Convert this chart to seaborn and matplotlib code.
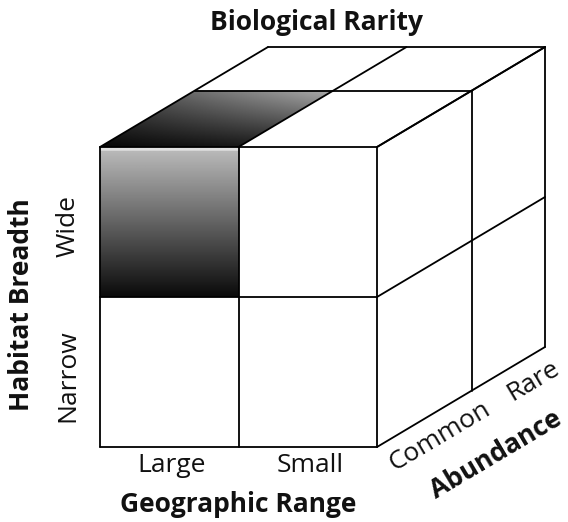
import matplotlib
matplotlib.use("Agg")
import matplotlib.pyplot as plt
import numpy as np
import seaborn as sns
from matplotlib.patches import Polygon

# categories of the three rarity axes
geo_range = ["Large", "Small"]
habitat = ["Wide", "Narrow"]
abundance = ["Common", "Rare"]
highlight = ("Large", "Wide", "Common")  # the shaded (least rare) cell

title = "Biological Rarity"
x_title = "Geographic Range"
y_title = "Habitat Breadth"
z_title = "Abundance"

sns.set_theme(style="white")
plt.rcParams["font.family"] = ["Open Sans", "DejaVu Sans"]
plt.rcParams["text.color"] = "#111111"

# cube geometry in pixel space
x0, y0 = 100, 147          # top-left corner of the front face
cell_w, cell_h = 138.5, 150
depth_vec = np.array([168, -100])
depth_frac = [0.0, 0.565, 1.0]
lw = 1.3


def proj(gx, gy, d):
    """grid coords (column, row, depth index) -> pixel position"""
    f = depth_frac[d]
    return (x0 + gx * cell_w + f * depth_vec[0], y0 + gy * cell_h + f * depth_vec[1])


fig = plt.figure(figsize=(5.68, 5.22), dpi=100)
ax = fig.add_axes([0, 0, 1, 1])
ax.set_xlim(0, 568)
ax.set_ylim(522, 0)
ax.axis("off")

nx, ny, nd = len(geo_range), len(habitat), len(abundance)

# ── shaded cell ───────────────────────────────────────────────────────
hx = geo_range.index(highlight[0])
hy = habitat.index(highlight[1])
hd = abundance.index(highlight[2])

# front face: light grey on top to black at the bottom
fx0, fy0 = proj(hx, hy, 0)
fx1, fy1 = proj(hx + 1, hy + 1, 0)
grad = np.linspace(0.74, 0.04, 200)[:, None] * np.ones((1, 50))
grad[:5] = 0.88
ax.imshow(grad, cmap="gray", vmin=0, vmax=1, extent=[fx0, fx1, fy1, fy0],
          aspect="auto", zorder=1, interpolation="bilinear")

# top face: black at the front edge to grey towards the back-right
top_poly = [proj(hx, hy, 0), proj(hx + 1, hy, 0), proj(hx + 1, hy, hd + 1), proj(hx, hy, hd + 1)]
xs = [p[0] for p in top_poly]
ys = [p[1] for p in top_poly]
gx_, gy_ = np.meshgrid(np.linspace(0, 1, 200), np.linspace(0, 1, 100))
back = 1 - gy_   # row 0 sits at the back edge
tgrad = 0.03 + 0.55 * back * (0.45 + 0.55 * gx_) + 0.1 * gx_
patch = Polygon(top_poly, closed=True, facecolor="none", edgecolor="none")
ax.add_patch(patch)
im = ax.imshow(tgrad, cmap="gray", vmin=0, vmax=1, origin="upper",
               extent=[min(xs), max(xs), max(ys), min(ys)],
               aspect="auto", zorder=1, interpolation="bilinear")
im.set_clip_path(patch)

# ── cube edges ────────────────────────────────────────────────────────
def seg(a, b):
    ax.plot([a[0], b[0]], [a[1], b[1]], color="black", lw=lw,
            solid_capstyle="round", zorder=3)

# front face
for i in range(nx + 1):
    seg(proj(i, 0, 0), proj(i, ny, 0))
for j in range(ny + 1):
    seg(proj(0, j, 0), proj(nx, j, 0))
# top face
for i in range(nx + 1):
    seg(proj(i, 0, 0), proj(i, 0, nd))
for d in range(1, nd + 1):
    seg(proj(0, 0, d), proj(nx, 0, d))
# right face
for j in range(ny + 1):
    seg(proj(nx, j, 0), proj(nx, j, nd))
for d in range(1, nd + 1):
    seg(proj(nx, 0, d), proj(nx, ny, d))

# ── labels ────────────────────────────────────────────────────────────
lab_fs = 19
ttl_fs = 19

ax.text(317, 22, title, ha="center", va="center", fontsize=ttl_fs, fontweight="bold")

for i, name in enumerate(geo_range):
    cx = (proj(i, ny, 0)[0] + proj(i + 1, ny, 0)[0]) / 2
    ax.text(cx + 2, 466, name, ha="center", va="center", fontsize=lab_fs)
ax.text(238, 505, x_title, ha="center", va="center", fontsize=ttl_fs, fontweight="bold")

for j, name in enumerate(habitat):
    cy = (proj(0, j, 0)[1] + proj(0, j + 1, 0)[1]) / 2
    ax.text(68, cy + 4, name, ha="center", va="center", rotation=90, fontsize=lab_fs)
ax.text(22, 305, y_title, ha="center", va="center", rotation=90,
        fontsize=ttl_fs, fontweight="bold")

angle = np.degrees(np.arctan2(-depth_vec[1], depth_vec[0]))
ab_pos = [(440, 436), (533, 381)]
for (tx, ty), name in zip(ab_pos, abundance):
    ax.text(tx, ty, name, ha="center", va="center", rotation=angle,
            rotation_mode="anchor", fontsize=lab_fs)
ax.text(496, 455, z_title, ha="center", va="center", rotation=angle,
        rotation_mode="anchor", fontsize=ttl_fs, fontweight="bold")

fig.savefig("out.png", dpi=100)
